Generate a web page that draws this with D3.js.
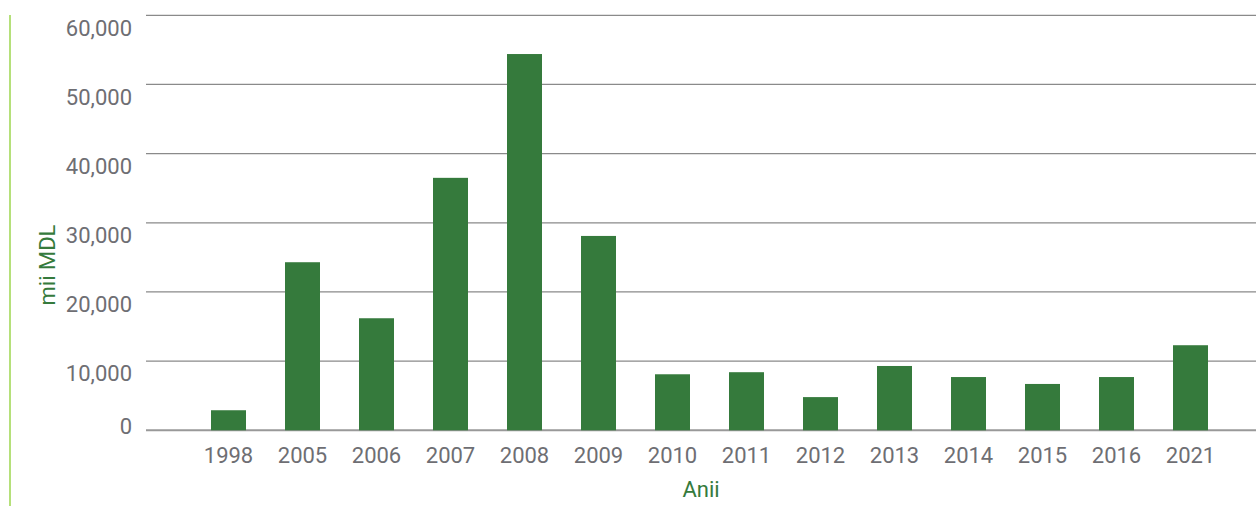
<!DOCTYPE html>
<html>
<head>
<meta charset="utf-8">
<script src="https://cdn.jsdelivr.net/npm/d3@7/dist/d3.min.js"></script>
<style>
    html, body { margin: 0; padding: 0; background: #ffffff; }
    svg { display: block; }
    .tick-label { font-family: "Liberation Sans Narrow", "Roboto", sans-serif; fill: #6e6e73; }
    .axis-title { font-family: "Liberation Sans Narrow", "Roboto", sans-serif; fill: #357a3c; }
</style>
</head>
<body>
<svg id="chart"></svg>
<script>
var years = ['1998', '2005', '2006', '2007', '2008', '2009', '2010', '2011', '2012', '2013', '2014', '2015', '2016', '2021'];
var values = [2900, 24300, 16200, 36500, 54400, 28100, 8100, 8400, 4800, 9300, 7700, 6700, 7700, 12300];
var yTicks = [0, 10000, 20000, 30000, 40000, 50000, 60000];

var WIDTH = 1256, HEIGHT = 506;

function drawChart() {
    var svg = d3.select('#chart').attr('width', WIDTH).attr('height', HEIGHT);

    var x = d3.scaleBand()
        .domain(years)
        .range([191.5, 1227.5])
        .paddingInner(0.527)
        .paddingOuter(0.2635);

    var y = d3.scaleLinear()
        .domain([0, 60000])
        .range([430.3, 15.3]);

    // left accent line
    svg.append('line')
        .attr('x1', 10).attr('x2', 10)
        .attr('y1', 15).attr('y2', HEIGHT)
        .attr('stroke', '#b5e07a')
        .attr('stroke-width', 2);

    // gridlines
    svg.append('g')
        .selectAll('line')
        .data(yTicks)
        .join('line')
        .attr('x1', 146).attr('x2', WIDTH)
        .attr('y1', function (d) { return y(d); })
        .attr('y2', function (d) { return y(d); })
        .attr('stroke', function (d) { return d === 0 ? '#999999' : '#8a8a8a'; })
        .attr('stroke-width', function (d) { return d === 0 ? 2 : 1.3; });

    // bars
    svg.append('g')
        .selectAll('rect')
        .data(values)
        .join('rect')
        .attr('x', function (d, i) { return x(years[i]); })
        .attr('y', function (d) { return y(d); })
        .attr('width', x.bandwidth())
        .attr('height', function (d) { return y(0) - y(d); })
        .attr('fill', '#357a3c');

    // y tick labels (sit a little below their gridlines, zero sits above)
    svg.append('g')
        .selectAll('text')
        .data(yTicks)
        .join('text')
        .attr('class', 'tick-label')
        .attr('x', 132)
        .attr('y', function (d) { return y(d) + (d === 0 ? -4.5 : 12.5); })
        .attr('dy', '0.35em')
        .attr('text-anchor', 'end')
        .style('font-size', '22px')
        .text(function (d) { return d3.format(',')(d); });

    // x tick labels
    svg.append('g')
        .selectAll('text')
        .data(years)
        .join('text')
        .attr('class', 'tick-label')
        .attr('x', function (d) { return x(d) + x.bandwidth() / 2; })
        .attr('y', 455)
        .attr('dy', '0.35em')
        .attr('text-anchor', 'middle')
        .style('font-size', '22px')
        .text(function (d) { return d; });

    // axis titles
    svg.append('text')
        .attr('class', 'axis-title')
        .attr('transform', 'translate(47,265) rotate(-90)')
        .attr('dy', '0.35em')
        .attr('text-anchor', 'middle')
        .style('font-size', '22px')
        .text('mii MDL');

    svg.append('text')
        .attr('class', 'axis-title')
        .attr('x', 701)
        .attr('y', 489)
        .attr('dy', '0.35em')
        .attr('text-anchor', 'middle')
        .style('font-size', '22px')
        .text('Anii');
}

drawChart();
</script>
</body>
</html>
